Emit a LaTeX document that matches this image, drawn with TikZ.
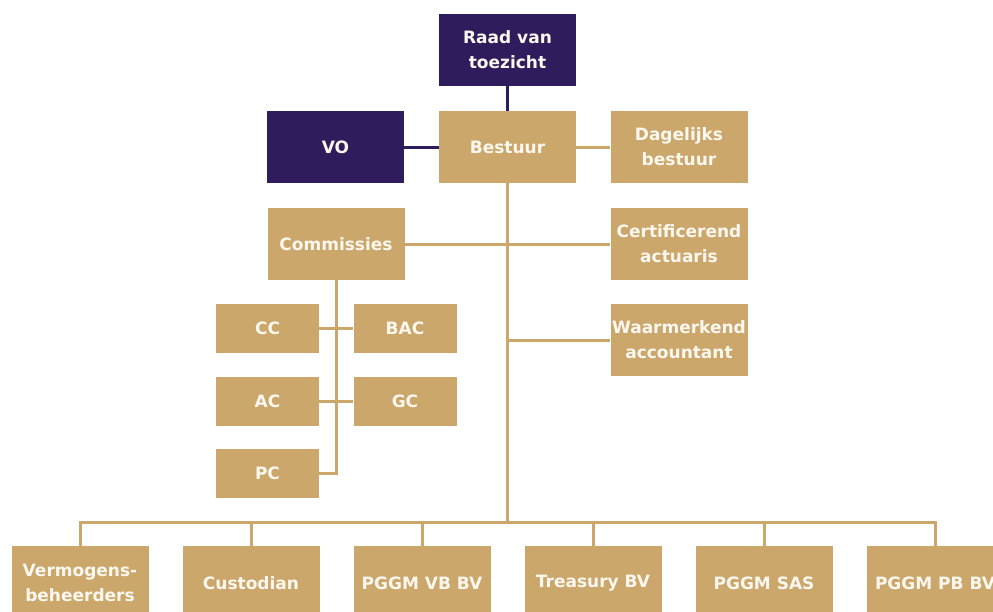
\documentclass[tikz,border=0pt]{standalone}
\usepackage{fontspec}
\setmainfont{DejaVu Sans}
\definecolor{tan}{RGB}{204,167,107}
\definecolor{paars}{RGB}{46,28,92}
\definecolor{cream}{RGB}{252,248,240}
\begin{document}
\begin{tikzpicture}[x=1pt,y=-1pt,
  box/.style={fill=tan,draw=none,text=cream,font=\bfseries\fontsize{17}{25}\selectfont,align=center,inner sep=0pt,minimum width=137pt,minimum height=72pt},
  pbox/.style={box,fill=paars},
  sbox/.style={box,minimum width=103pt,minimum height=49pt},
  tline/.style={draw=tan,line width=3pt},
  pline/.style={draw=paars,line width=3pt}]
\useasboundingbox (0,0) rectangle (993,611);
% nodes
\node[pbox] (raad) at (507.5,50) {Raad van\\toezicht};
\node[box] (bestuur) at (507.5,147) {Bestuur};
\node[pbox] (vo) at (335.5,147) {VO};
\node[box] (dag) at (679,147) {Dagelijks\\bestuur};
\node[box] (com) at (336,244) {Commissies};
\node[box] (cert) at (679,244) {Certificerend\\actuaris};
\node[box] (waar) at (679,340) {Waarmerkend\\accountant};
\node[sbox] (cc) at (267.5,328.5) {CC};
\node[sbox] (bac) at (405,328.5) {BAC};
\node[sbox] (ac) at (267.5,401) {AC};
\node[sbox] (gc) at (405,401) {GC};
\node[sbox] (pc) at (267.5,473) {PC};
\node[box,minimum height=74pt] (verm) at (80,583) {Vermogens-\\beheerders};
\node[box,minimum height=74pt] (cust) at (251,583) {Custodian};
\node[box,minimum height=74pt] (vb) at (422,583) {PGGM VB BV};
\node[box,minimum height=74pt] (tre) at (593,583) {Treasury BV};
\node[box,minimum height=74pt] (sas) at (764,583) {PGGM SAS};
\node[box,minimum height=74pt] (pb) at (935,583) {PGGM PB BV};
\coordinate (bus) at (507.5,522);
\coordinate (cv) at (336,473);
% connectors
\draw[pline] (raad.south) -- (bestuur.north);
\draw[pline] (vo.east) -- (bestuur.west);
\draw[tline] (bestuur.east) -- (dag.west);
\draw[tline] (bestuur.south) -- (bus);
\draw[tline] (com.east) -- (cert.west);
\draw[tline] (waar.west) -- (waar.west -| bestuur.south);
\draw[tline] (com.south) -- (cv) -- (pc.east);
\draw[tline] (cc.east) -- (bac.west);
\draw[tline] (ac.east) -- (gc.west);
\draw[tline] (verm.north) -- (verm.north |- bus) -- (pb.north |- bus) -- (pb.north);
\foreach \n in {cust,vb,tre,sas} \draw[tline] (\n.north) -- (\n.north |- bus);
\end{tikzpicture}
\end{document}
